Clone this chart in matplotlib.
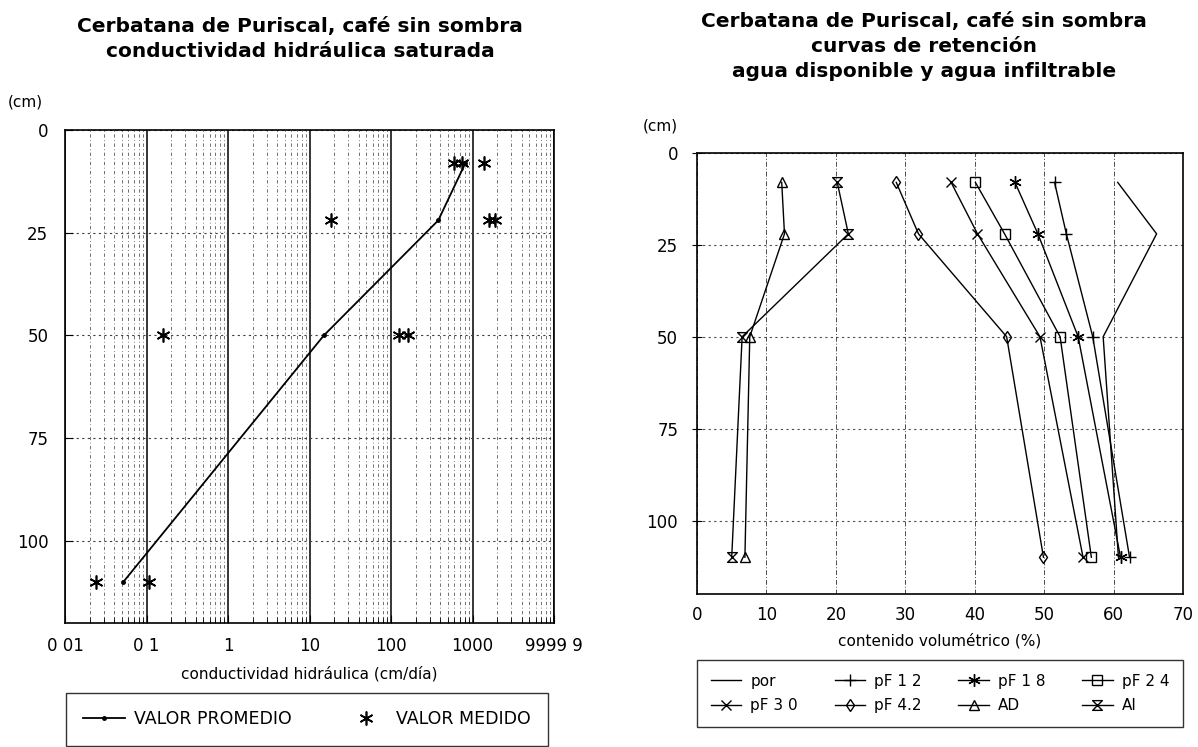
import matplotlib.pyplot as plt
from matplotlib.path import Path
from matplotlib.ticker import FixedLocator, LogLocator, NullFormatter

plt.rcParams['font.family'] = 'DejaVu Sans'

# --- left chart: saturated hydraulic conductivity (cm/dia) vs depth (cm) ---
prof_k = [8, 22, 50, 110]
k_promedio = [820, 380, 15, 0.052]
prof_med = [8, 8, 8, 22, 22, 22, 50, 50, 50, 110, 110]
k_medido = [600, 750, 1370, 18.3, 1580, 1870, 0.16, 125, 160, 0.024, 0.107]
k_ticks = [0.01, 0.1, 1, 10, 100, 1000, 9999.9]
k_ticklabels = ['0 01', '0 1', '1', '10', '100', '1000', '9999 9']

# --- right chart: retention curves (% volume) vs depth (cm) ---
prof = [8, 22, 50, 110]
por = [60.6, 66.2, 58.5, 60.7]
pf12 = [51.5, 53.2, 57.0, 62.3]
pf18 = [45.8, 49.1, 54.9, 61.0]
pf24 = [40.1, 44.3, 52.3, 56.8]
pf30 = [36.6, 40.4, 49.4, 55.6]
pf42 = [28.7, 31.9, 44.6, 49.9]
ad = [12.2, 12.6, 7.6, 6.9]
ai = [20.2, 21.8, 6.5, 5.0]
series = [por, pf12, pf18, pf24, pf30, pf42, ad, ai]
series_labels = ['por', 'pF 1 2', 'pF 1 8', 'pF 2 4', 'pF 3 0', 'pF 4.2', 'AD', 'AI']

hourglass = Path([(-1, 1), (1, 1), (-1, -1), (1, -1), (-1, 1)],
                 [Path.MOVETO, Path.LINETO, Path.LINETO, Path.LINETO, Path.CLOSEPOLY])
markers = [None, '+', (6, 2, 0), 's', 'x', 'd', '^', hourglass]
msizes = [0, 9, 9, 7, 7, 6, 7, 7]

W, H = 1198, 747
fig = plt.figure(figsize=(W / 100, H / 100), dpi=100)

# ---------------- left panel ----------------
ax1 = fig.add_axes([65 / W, 1 - 623 / H, 489 / W, 493 / H])
ax1.set_xscale('log')
ax1.set_xlim(0.01, 9999.9)
ax1.set_ylim(120, 0)
ax1.xaxis.set_major_locator(FixedLocator(k_ticks))
ax1.set_xticklabels(k_ticklabels)
ax1.xaxis.set_minor_locator(LogLocator(base=10, subs=range(2, 10)))
ax1.xaxis.set_minor_formatter(NullFormatter())
ax1.set_yticks([0, 25, 50, 75, 100])

ax1.grid(which='major', axis='x', color='black', lw=1.1, ls='-')
ax1.grid(which='minor', axis='x', color='0.35', lw=0.6, ls=(0, (4, 3, 1, 3)))
ax1.grid(which='major', axis='y', color='0.25', lw=0.8, ls=(0, (2, 3)))

ax1.plot(k_promedio, prof_k, color='black', lw=1.3, marker='o', ms=2.5,
         label='VALOR PROMEDIO')
ax1.plot(k_medido, prof_med, ls='none', color='black', marker=(6, 2, 0),
         ms=10, mew=1.2, label='VALOR MEDIDO')

ax1.tick_params(axis='x', which='major', direction='in', length=6, labelsize=12, pad=10)
ax1.tick_params(axis='x', which='minor', direction='in', length=4)
ax1.tick_params(axis='y', direction='in', length=6, labelsize=12, pad=12)
for s in ax1.spines.values():
    s.set_linewidth(1.2)

ax1.set_xlabel('conductividad hidráulica (cm/día)', fontsize=11)
ax1.xaxis.set_label_coords(0.5, -51 / 493)
ax1.xaxis.label.set_va('center')

fig.legend(*ax1.get_legend_handles_labels(), loc='upper left',
           bbox_to_anchor=(66 / W, 0, 482 / W, 1 - 693 / H), mode='expand',
           ncol=2, fontsize=12.5, frameon=True, fancybox=False, edgecolor='black',
           borderpad=1.0, handlelength=2.4, handletextpad=0.5, borderaxespad=0,
           numpoints=1)

fig.text(300 / W, 1 - 32 / H, 'Cerbatana de Puriscal, café sin sombra',
         ha='center', va='baseline', fontsize=14.5, fontweight='bold')
fig.text(300 / W, 1 - 57 / H, 'conductividad hidráulica saturada',
         ha='center', va='baseline', fontsize=14.5, fontweight='bold')
fig.text(8 / W, 1 - 102 / H, '(cm)', ha='left', va='center', fontsize=11)

# ---------------- right panel ----------------
ax2 = fig.add_axes([697 / W, 1 - 594 / H, 486 / W, 441 / H])
ax2.set_xlim(0, 70)
ax2.set_ylim(120, 0)
ax2.set_xticks(range(0, 71, 10))
ax2.set_yticks([0, 25, 50, 75, 100])
ax2.grid(axis='x', color='0.3', lw=0.7, ls=(0, (5, 2, 1, 2)))
ax2.grid(axis='y', color='0.3', lw=0.8, ls=(0, (2, 3)))

for vals, lab, mk, ms in zip(series, series_labels, markers, msizes):
    ax2.plot(vals, prof, color='black', lw=1.0, marker=mk, ms=ms,
             mfc='none', mec='black', mew=1.0, label=lab)

ax2.tick_params(axis='x', length=0, labelsize=12, pad=9)
ax2.tick_params(axis='y', direction='inout', length=7, labelsize=12, pad=10)
for s in ax2.spines.values():
    s.set_linewidth(1.2)

ax2.set_xlabel('contenido volumétrico (%)', fontsize=11)
ax2.xaxis.set_label_coords(0.5, -47 / 441)
ax2.xaxis.label.set_va('center')

h, l = ax2.get_legend_handles_labels()
order = [0, 4, 1, 5, 2, 6, 3, 7]
fig.legend([h[i] for i in order], [l[i] for i in order], loc='upper left',
           bbox_to_anchor=(697 / W, 0, 486 / W, 1 - 660 / H), mode='expand',
           ncol=4, fontsize=11, frameon=True, fancybox=False, edgecolor='black',
           borderpad=0.9, handlelength=2.0, handletextpad=0.6, labelspacing=0.6,
           borderaxespad=0, numpoints=1)

fig.text(924 / W, 1 - 27 / H, 'Cerbatana de Puriscal, café sin sombra',
         ha='center', va='baseline', fontsize=14.5, fontweight='bold')
fig.text(924 / W, 1 - 52 / H, 'curvas de retención',
         ha='center', va='baseline', fontsize=14.5, fontweight='bold')
fig.text(924 / W, 1 - 77 / H, 'agua disponible y agua infiltrable',
         ha='center', va='baseline', fontsize=14.5, fontweight='bold')
fig.text(643 / W, 1 - 126 / H, '(cm)', ha='left', va='center', fontsize=11)

fig.savefig('out.png', dpi=100)
